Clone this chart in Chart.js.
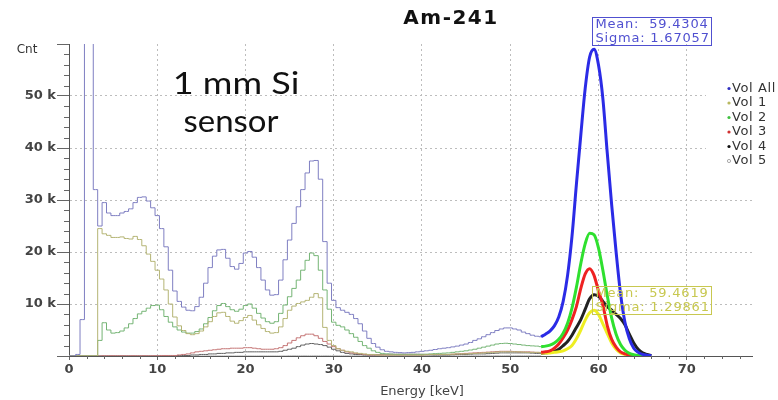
<!DOCTYPE html>
<html>
<head>
<meta charset="utf-8">
<script src="https://cdn.jsdelivr.net/npm/chart.js@4.4.0/dist/chart.umd.min.js"></script>
<style>
  html, body { margin: 0; padding: 0; background: #fff; }
  canvas { display: block; }
</style>
</head>
<body>
<canvas id="spectrum" width="778" height="400"></canvas>
<script>
// histogram bins (keV)
const energy = [
  0, 0.5, 1, 1.5, 2, 2.5, 3, 3.5, 4, 4.5,
  5, 5.5, 6, 6.5, 7, 7.5, 8, 8.5, 9, 9.5,
  10, 10.5, 11, 11.5, 12, 12.5, 13, 13.5, 14, 14.5,
  15, 15.5, 16, 16.5, 17, 17.5, 18, 18.5, 19, 19.5,
  20, 20.5, 21, 21.5, 22, 22.5, 23, 23.5, 24, 24.5,
  25, 25.5, 26, 26.5, 27, 27.5, 28, 28.5, 29, 29.5,
  30, 30.5, 31, 31.5, 32, 32.5, 33, 33.5, 34, 34.5,
  35, 35.5, 36, 36.5, 37, 37.5, 38, 38.5, 39, 39.5,
  40, 40.5, 41, 41.5, 42, 42.5, 43, 43.5, 44, 44.5,
  45, 45.5, 46, 46.5, 47, 47.5, 48, 48.5, 49, 49.5,
  50, 50.5, 51, 51.5, 52, 52.5, 53, 53.5
];

// counts in thousands
const volAll = [
  0, 0, 0.3, 7, 90, 90, 32, 25, 29.5, 27.5,
  27, 27, 27.5, 27.8, 28.3, 29.5, 30.5, 30.6, 29.8, 28.5,
  27, 24.5, 21, 16.5, 12.5, 10.5, 9.4, 8.8, 8.7, 9.5,
  11.3, 14, 17, 19.2, 20.4, 20.5, 18.8, 17.2, 16.7, 17.8,
  19.8, 20.1, 19, 17, 14.6, 12.7, 11.7, 11.8, 14.6, 18.5,
  22.3, 25.5, 28.7, 32, 35.2, 37.5, 37.6, 34, 22, 14,
  10.7, 9.3, 8.8, 8.4, 8.0, 7.2, 6.2, 4.8, 3.4, 2.4,
  1.7, 1.2, 0.9, 0.8, 0.7, 0.65, 0.6, 0.65, 0.7, 0.8,
  0.9, 1.0, 1.1, 1.25, 1.4, 1.5, 1.6, 1.75, 1.9, 2.1,
  2.3, 2.6, 3.0, 3.3, 3.7, 4.1, 4.5, 4.9, 5.2, 5.4,
  5.4, 5.2, 5.0, 4.6, 4.3, 4.0, 3.8, 3.7
];
const vol1 = [
  0, 0, 0, 0, 0, 0, 0, 24.5, 23.5, 23.2,
  22.8, 22.8, 22.9, 22.6, 22.5, 23.0, 22.4, 21.2, 19.6, 18.2,
  16.5, 14.8, 12.7, 10, 7.5, 5.8, 4.9, 4.3, 4.1, 4.3,
  4.8, 5.6, 6.6, 7.6, 8.3, 8.4, 7.6, 6.7, 6.3, 6.8,
  7.4, 7.8, 6.9, 6.0, 5.3, 4.7, 4.4, 4.5, 5.6, 7.2,
  8.8, 9.6, 10.1, 10.4, 10.7, 11.3, 12.0, 11.2, 5.5, 3.0,
  2.0, 1.4, 1.1, 0.9, 0.8, 0.6, 0.5, 0.4, 0.3, 0.3,
  0.2, 0.2, 0.2, 0.2, 0.2, 0.2, 0.2, 0.2, 0.2, 0.2,
  0.2, 0.25, 0.3, 0.3, 0.3, 0.3, 0.3, 0.35, 0.4, 0.4,
  0.4, 0.45, 0.5, 0.55, 0.6, 0.65, 0.7, 0.75, 0.8, 0.8,
  0.8, 0.8, 0.8, 0.75, 0.7, 0.7, 0.7, 0.6
];
const vol2 = [
  0, 0, 0, 0, 0, 0, 0, 3, 6.4, 5.0,
  4.4, 4.5, 4.8, 5.4, 6.2, 7.2, 8.1, 8.6, 9.2, 9.7,
  9.8, 8.9, 7.6, 6.5, 5.6, 5.0, 4.6, 4.4, 4.4, 4.7,
  5.2, 6.2, 7.4, 8.7, 9.7, 10.1, 9.5, 8.9, 8.6, 9.0,
  9.7, 10.0, 9.2, 8.2, 7.3, 6.6, 6.3, 6.6, 8.2, 9.8,
  11.4, 13.0, 14.6, 16.5, 18.4, 19.8, 19.3, 16.5, 12.7, 9.0,
  6.5, 5.9, 5.6, 5.0, 4.3, 3.6, 2.8, 2.0, 1.5, 1.0,
  0.7, 0.5, 0.4, 0.35, 0.3, 0.3, 0.3, 0.3, 0.3, 0.3,
  0.3, 0.35, 0.4, 0.45, 0.5, 0.55, 0.6, 0.7, 0.8, 0.9,
  1.0, 1.15, 1.3, 1.5, 1.7, 1.9, 2.1, 2.3, 2.4, 2.45,
  2.4, 2.3, 2.2, 2.1, 2.0, 1.95, 1.9, 1.8
];
const vol3 = [
  0, 0, 0, 0, 0, 0, 0, 0, 0.05, 0.05,
  0.05, 0.05, 0.05, 0.05, 0.05, 0.05, 0.05, 0.05, 0.05, 0.05,
  0.05, 0.1, 0.1, 0.1, 0.1, 0.2, 0.3, 0.4, 0.6, 0.8,
  0.9, 1.0, 1.1, 1.2, 1.3, 1.4, 1.4, 1.5, 1.5, 1.5,
  1.6, 1.6, 1.5, 1.4, 1.3, 1.3, 1.3, 1.4, 1.6, 2.0,
  2.5, 3.0, 3.5, 3.9, 4.2, 4.2, 3.9, 3.4, 2.8, 2.3,
  1.8, 1.4, 1.1, 0.8, 0.6, 0.5, 0.4, 0.3, 0.2, 0.2,
  0.2, 0.2, 0.2, 0.2, 0.2, 0.2, 0.2, 0.2, 0.2, 0.2,
  0.2, 0.25, 0.3, 0.3, 0.3, 0.3, 0.3, 0.35, 0.4, 0.45,
  0.5, 0.55, 0.6, 0.65, 0.7, 0.75, 0.8, 0.85, 0.9, 0.9,
  0.9, 0.85, 0.8, 0.8, 0.8, 0.75, 0.7, 0.7
];
const vol4 = [
  0, 0, 0, 0, 0, 0, 0, 0, 0, 0,
  0, 0, 0, 0, 0, 0, 0, 0, 0, 0,
  0, 0, 0, 0, 0, 0.1, 0.1, 0.1, 0.2, 0.2,
  0.3, 0.3, 0.4, 0.4, 0.5, 0.5, 0.6, 0.6, 0.7, 0.7,
  0.8, 0.8, 0.8, 0.8, 0.8, 0.8, 0.8, 0.8, 0.9, 1.1,
  1.3, 1.5, 1.8, 2.1, 2.3, 2.4, 2.3, 2.2, 2.0, 1.7,
  1.3, 1.0, 0.7, 0.5, 0.4, 0.3, 0.3, 0.2, 0.2, 0.2,
  0.2, 0.2, 0.2, 0.2, 0.2, 0.2, 0.2, 0.2, 0.2, 0.2,
  0.2, 0.2, 0.2, 0.2, 0.2, 0.2, 0.2, 0.25, 0.3, 0.3,
  0.3, 0.35, 0.4, 0.4, 0.4, 0.45, 0.5, 0.55, 0.6, 0.6,
  0.6, 0.6, 0.6, 0.6, 0.6, 0.55, 0.5, 0.5
];
const vol5 = [
  0, 0, 0, 0, 0, 0, 0, 0, 0, 0,
  0, 0, 0, 0, 0, 0, 0, 0, 0, 0,
  0, 0, 0, 0, 0, 0, 0, 0, 0, 0,
  0.05, 0.05, 0.05, 0.05, 0.05, 0.05, 0.05, 0.05, 0.05, 0.05,
  0.05, 0.05, 0.05, 0.05, 0.05, 0.05, 0.05, 0.05, 0.05, 0.05,
  0.1, 0.1, 0.1, 0.1, 0.1, 0.1, 0.1, 0.1, 0.1, 0.1,
  0.1, 0.1, 0.1, 0.1, 0.1, 0.1, 0.1, 0.1, 0.1, 0.1,
  0.2, 0.3, 0.4, 0.5, 0.5, 0.5, 0.5, 0.5, 0.5, 0.45,
  0.4, 0.3, 0.2, 0.1, 0.1, 0.1, 0.1, 0.1, 0.1, 0.1,
  0.1, 0.1, 0.1, 0.1, 0.1, 0.1, 0.1, 0.1, 0.1, 0.1,
  0.1, 0.1, 0.1, 0.1, 0.1, 0.1, 0.1, 0.1
];

// gaussian fits around the 59.5 keV line
const fitEnergy = [
  53.5, 54, 54.5, 55, 55.5, 56, 56.5, 57, 57.5, 58,
  58.5, 59, 59.5, 60, 60.5, 61, 61.5, 62, 62.5, 63,
  63.5, 64, 64.5, 65, 65.5, 66
];
const fitAll = [3.7, 4.2, 4.8, 5.8, 7.5, 10.5, 15.5, 23, 33, 42.5, 51.5, 57.5, 59.0, 56, 49.5, 39, 29, 20, 12, 6.5, 3.3, 1.5, 0.7, 0.3, 0.15, 0.05];
const fit1 = [0.6, 0.6, 0.6, 0.7, 0.8, 1.0, 1.4, 2.0, 3.3, 5.0, 6.9, 8.3, 8.8, 8.0, 6.2, 4.3, 2.5, 1.3, 0.6, 0.3, 0.1, 0.05, null, null, null, null];
const fit2 = [1.8, 1.9, 2.1, 2.5, 3.2, 4.4, 6.3, 9.2, 13.2, 17.8, 21.6, 23.6, 23.3, 20.8, 16.5, 11.6, 7.3, 4.2, 2.2, 1.1, 0.5, 0.25, 0.1, 0.05, null, null];
const fit3 = [0.7, 0.8, 1.0, 1.5, 2.3, 3.5, 5.0, 7.0, 9.5, 13, 15.8, 16.8, 15.5, 12.5, 9.8, 5.8, 3.2, 1.7, 0.8, 0.4, 0.2, 0.1, null, null, null, null];
const fit4 = [0.5, 0.6, 0.7, 0.9, 1.3, 2.0, 2.8, 4.0, 5.5, 7.0, 9.0, 11.0, 11.8, 11.5, 10.5, 9.5, 8.8, 8.0, 7.2, 6.0, 4.2, 2.5, 1.3, 0.6, 0.3, 0.1];

const seriesNames = ['Vol All', 'Vol 1', 'Vol 2', 'Vol 3', 'Vol 4', 'Vol 5'];
const thinColors = ['#7f7fc2', '#b4b474', '#74b474', '#c47474', '#606060', '#c8c8c8'];
const fitColors  = ['#2b2be6', '#eeee22', '#2fe02f', '#ee2222', '#222222'];
const legendDots = ['#3030c0', '#b8b860', '#40c040', '#d03030', '#111111', '#aaaaaa'];

const statsAll = ['Mean:  59.4304', 'Sigma: 1.67057'];
const stats1 = ['Mean:  59.4619', 'Sigma: 1.29861'];

const xTicks = [0, 10, 20, 30, 40, 50, 60, 70];

function pts(xs, ys) {
  return xs.map((x, i) => ({ x: x, y: ys[i] }));
}

const fitSets = [fitAll, fit2, fit3, fit1, fit4];
const fitIdx = [0, 2, 3, 1, 4];
const datasets = [];
fitSets.forEach((f, k) => {
  datasets.push({
    label: seriesNames[fitIdx[k]] + ' fit',
    data: pts(fitEnergy, f),
    borderColor: fitColors[fitIdx[k]],
    borderWidth: 3,
    pointRadius: 0,
    cubicInterpolationMode: 'monotone',
    spanGaps: false
  });
});
[volAll, vol1, vol2, vol3, vol4, vol5].forEach((v, i) => {
  datasets.push({
    label: seriesNames[i],
    data: pts(energy, v),
    borderColor: thinColors[i],
    borderWidth: 1,
    pointRadius: 0,
    stepped: 'middle'
  });
});

function drawText(ctx, str, x, y, font, color, align, spacing, sx) {
  ctx.save();
  ctx.font = font;
  ctx.fillStyle = color;
  ctx.textAlign = align || 'center';
  ctx.textBaseline = 'middle';
  ctx.letterSpacing = spacing || '0px';
  ctx.translate(x, y);
  ctx.scale(sx || 1, 1);
  ctx.fillText(str, 0, 0);
  ctx.restore();
}

const decorations = {
  id: 'decorations',
  beforeDraw(chart) {
    const ctx = chart.ctx;
    ctx.save();
    ctx.fillStyle = '#fff';
    ctx.fillRect(0, 0, chart.width, chart.height);
    ctx.restore();
  },
  afterDraw(chart) {
    const { ctx, scales: { x, y } } = chart;
    // minor ticks
    ctx.save();
    ctx.strokeStyle = '#666';
    ctx.lineWidth = 1;
    ctx.beginPath();
    for (let v = 2; v < 60; v += 2) {
      if (v % 10 === 0) continue;
      const py = Math.round(y.getPixelForValue(v)) + 0.5;
      ctx.moveTo(x.left - 5, py);
      ctx.lineTo(x.left, py);
    }
    for (let v = 2; v < 77; v += 2) {
      if (v % 10 === 0) continue;
      const px = Math.round(x.getPixelForValue(v)) + 0.5;
      ctx.moveTo(px, y.bottom);
      ctx.lineTo(px, y.bottom + 3);
    }
    ctx.stroke();
    ctx.restore();

    // titles and notes
    drawText(ctx, 'Am-241', 451, 19, 'bold 20px "DejaVu Sans"', '#111', 'center', '1.5px');
    drawText(ctx, 'Cnt', 27, 50, '12px "DejaVu Sans"', '#333');
    drawText(ctx, 'Energy [keV]', 422, 392, '13px "DejaVu Sans"', '#444');
    drawText(ctx, '1 mm Si', 236, 84, '30px Lato', '#111', 'center', '0px', 1.2);
    drawText(ctx, 'sensor', 231, 122, '30px Lato', '#111', 'center', '0px', 1.1);

    // legend
    ctx.save();
    ctx.fillStyle = '#fff';
    ctx.fillRect(706, 80, 72, 92);
    ctx.restore();
    seriesNames.forEach((name, i) => {
      const ly = 88.5 + i * 14.5;
      ctx.save();
      ctx.beginPath();
      ctx.arc(729, ly, 1.6, 0, Math.PI * 2);
      if (i === 5) {
        ctx.strokeStyle = legendDots[i];
        ctx.stroke();
      } else {
        ctx.fillStyle = legendDots[i];
        ctx.fill();
      }
      ctx.restore();
      drawText(ctx, name, 732, ly, '13px "DejaVu Sans"', '#333', 'left', '0.6px');
    });

    // fit statistics boxes
    const boxes = [
      { lines: statsAll, x: 592.5, y: 17.5, w: 119, h: 28, color: '#5050d0' },
      { lines: stats1, x: 592.5, y: 286.5, w: 119, h: 28, color: '#c8c850' }
    ];
    boxes.forEach(b => {
      ctx.save();
      ctx.strokeStyle = b.color;
      ctx.lineWidth = 1;
      ctx.strokeRect(b.x, b.y, b.w, b.h);
      ctx.restore();
      drawText(ctx, b.lines[0], b.x + 3, b.y + 7.5, '13px "DejaVu Sans"', b.color, 'left', '0.8px');
      drawText(ctx, b.lines[1], b.x + 3, b.y + 21.5, '13px "DejaVu Sans"', b.color, 'left', '0.8px');
    });
  }
};

Chart.defaults.font.family = '"DejaVu Sans"';

new Chart(document.getElementById('spectrum'), {
  type: 'line',
  data: { datasets: datasets },
  options: {
    responsive: false,
    animation: false,
    layout: { padding: { top: 44, right: 26, left: 0, bottom: 0 } },
    plugins: {
      legend: { display: false },
      tooltip: { enabled: false }
    },
    scales: {
      x: {
        type: 'linear',
        min: 0,
        max: 77.4,
        afterFit(scale) { scale.height = 44; },
        afterBuildTicks(scale) { scale.ticks = xTicks.map(v => ({ value: v })); },
        ticks: {
          font: { size: 13, weight: 'bold' },
          color: '#444',
          padding: 2,
          maxRotation: 0
        },
        grid: {
          color: ctx => (ctx.tick && ctx.tick.value > 0 ? '#bdbdbd' : 'rgba(0,0,0,0)'),
          tickColor: '#666',
          tickLength: 4
        },
        border: { color: '#555', width: 1, dash: [2, 3] }
      },
      y: {
        min: 0,
        max: 60,
        afterFit(scale) { scale.width = 69; },
        ticks: {
          stepSize: 10,
          font: { size: 13, weight: 'bold' },
          color: '#444',
          padding: 1,
          callback: v => (v > 0 && v < 60 ? v + ' k' : '')
        },
        grid: {
          color: ctx => (ctx.tick && ctx.tick.value > 0 && ctx.tick.value < 60 ? '#bdbdbd' : 'rgba(0,0,0,0)'),
          tickColor: '#666',
          tickLength: 12
        },
        border: { color: '#555', width: 1, dash: [2, 3] }
      }
    }
  },
  plugins: [decorations]
});
</script>
</body>
</html>
